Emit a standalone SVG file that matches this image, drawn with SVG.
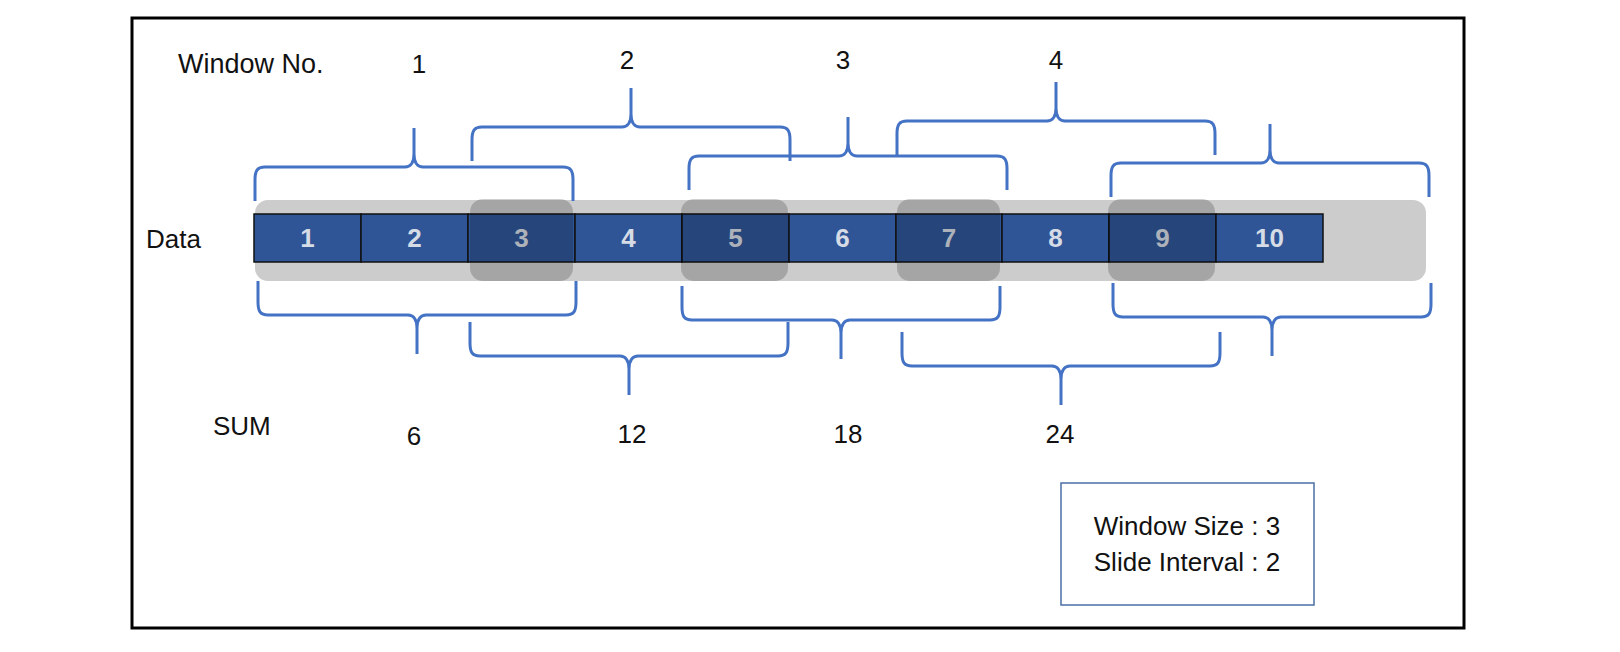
<svg xmlns="http://www.w3.org/2000/svg" xmlns:xlink="http://www.w3.org/1999/xlink" width="1620" height="652" viewBox="0 0 1620 652">
<style>
.lbl{font-family:"Liberation Sans",Arial,sans-serif;font-size:26px;fill:#111}
.num{font-family:"Liberation Sans",Arial,sans-serif;font-size:26px;fill:#111;text-anchor:middle}
.cell{fill:#2f5597;stroke:#111;stroke-width:1.5}
.ct{font-family:"Liberation Sans",Arial,sans-serif;font-size:26px;font-weight:bold;fill:#d6dce5;text-anchor:middle}
.hl{fill:#000;fill-opacity:0.19}
.brace{fill:none;stroke:#4472c4;stroke-width:3;stroke-linecap:butt;stroke-linejoin:round}
</style>
<defs>
<path id="bt" d="M0,73 L0,52 C0,43 2,39 10,39 L150,39 C155,39 159,35 159,26 L159,0 M159,0 L159,26 C159,35 163,39 168,39 L308,39 C316,39 318,43 318,52 L318,73"/>
<path id="bb" d="M0,0 L0,21 C0,30 2,34 10,34 L150,34 C155,34 159,38 159,47 L159,73 M159,73 L159,47 C159,38 163,34 168,34 L308,34 C316,34 318,30 318,21 L318,0"/>
</defs>
<rect width="1620" height="652" fill="#fff"/>
<rect id="frame" x="132" y="18" width="1332" height="610" fill="none" stroke="#000" stroke-width="3"/>

<g id="label-window-no"><text class="lbl" x="178" y="73" style="font-size:27px">Window No.</text></g>
<g id="label-data"><text class="lbl" x="146" y="248">Data</text></g>
<g id="label-sum"><text class="lbl" x="213" y="435">SUM</text></g>

<g id="win-1"><text class="num" x="419" y="73">1</text></g>
<g id="win-2"><text class="num" x="627" y="69">2</text></g>
<g id="win-3"><text class="num" x="843" y="69">3</text></g>
<g id="win-4"><text class="num" x="1056" y="69">4</text></g>

<g id="sum-1"><text class="num" x="414" y="445">6</text></g>
<g id="sum-2"><text class="num" x="632" y="443">12</text></g>
<g id="sum-3"><text class="num" x="848" y="443">18</text></g>
<g id="sum-4"><text class="num" x="1060" y="443">24</text></g>

<g id="data-bar">
<rect x="255" y="200" width="1171" height="81" rx="13" fill="#cccccc"/>
</g>
<g id="cells">
<g id="cell-1"><rect class="cell" x="254" y="214" width="107" height="48"/><text class="ct" x="307.5" y="247">1</text></g>
<g id="cell-2"><rect class="cell" x="361" y="214" width="107" height="48"/><text class="ct" x="414.5" y="247">2</text></g>
<g id="cell-3"><rect class="cell" x="468" y="214" width="107" height="48"/><text class="ct" x="521.5" y="247">3</text></g>
<g id="cell-4"><rect class="cell" x="575" y="214" width="107" height="48"/><text class="ct" x="628.5" y="247">4</text></g>
<g id="cell-5"><rect class="cell" x="682" y="214" width="107" height="48"/><text class="ct" x="735.5" y="247">5</text></g>
<g id="cell-6"><rect class="cell" x="789" y="214" width="107" height="48"/><text class="ct" x="842.5" y="247">6</text></g>
<g id="cell-7"><rect class="cell" x="896" y="214" width="106" height="48"/><text class="ct" x="949" y="247">7</text></g>
<g id="cell-8"><rect class="cell" x="1002" y="214" width="107" height="48"/><text class="ct" x="1055.5" y="247">8</text></g>
<g id="cell-9"><rect class="cell" x="1109" y="214" width="107" height="48"/><text class="ct" x="1162.5" y="247">9</text></g>
<g id="cell-10"><rect class="cell" x="1216" y="214" width="107" height="48"/><text class="ct" x="1269.5" y="247">10</text></g>
</g>
<g id="overlaps">
<rect class="hl" x="470" y="199" width="103" height="82" rx="13"/>
<rect class="hl" x="681" y="199" width="107" height="82" rx="13"/>
<rect class="hl" x="897" y="199" width="103" height="82" rx="13"/>
<rect class="hl" x="1108" y="199" width="107" height="82" rx="13"/>
</g>

<g id="connectors">
<use xlink:href="#bt" class="brace" transform="translate(255,128)"/>
<use xlink:href="#bt" class="brace" transform="translate(472,88)"/>
<use xlink:href="#bt" class="brace" transform="translate(689,117)"/>
<use xlink:href="#bt" class="brace" transform="translate(897,82)"/>
<use xlink:href="#bt" class="brace" transform="translate(1111,124)"/>
<use xlink:href="#bb" class="brace" transform="translate(258,281)"/>
<use xlink:href="#bb" class="brace" transform="translate(470,322)"/>
<use xlink:href="#bb" class="brace" transform="translate(682,286)"/>
<use xlink:href="#bb" class="brace" transform="translate(902,332)"/>
<use xlink:href="#bb" class="brace" transform="translate(1113,283)"/>
</g>

<g id="legend">
<rect x="1061" y="483" width="253" height="122" fill="#fff" stroke="#4a6fa5" stroke-width="1.5"/>
<text class="num" x="1187" y="535">Window Size : 3</text>
<text class="num" x="1187" y="571">Slide Interval : 2</text>
</g>
</svg>
